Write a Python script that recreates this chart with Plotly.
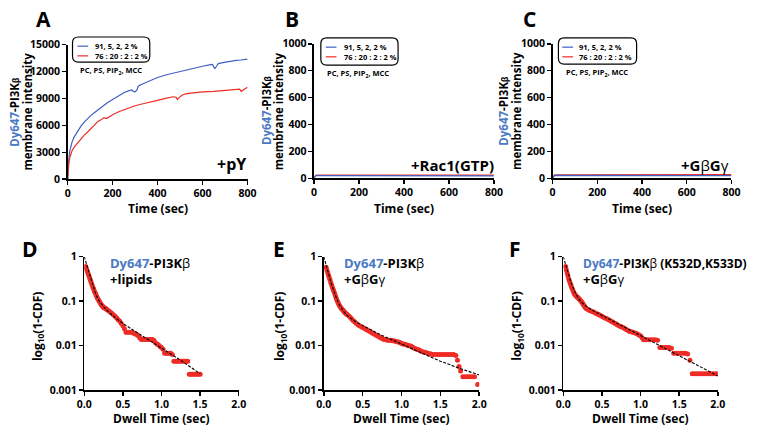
import plotly.graph_objects as go

W, H = 760, 432
FONT = "Open Sans"
BLUE = "#3f5fc4"
RED = "#ee2c25"
DYBLUE = "#4a78c4"

# ---------------- Panel A data (+pY) ----------------
a_blue_t = [0, 2, 5, 10, 15, 20, 30, 40, 50, 60, 75, 90, 105, 120, 135, 150, 175, 200, 225, 250,
            270, 285, 293, 300, 307, 315, 330, 360, 400, 440, 480, 520, 560, 600, 630, 645, 650,
            655, 662, 670, 690, 710, 730, 750, 770, 790, 800]
a_blue = [0, 1200, 2200, 3200, 3800, 4200, 4750, 5200, 5600, 5950, 6400, 6800, 7150, 7450, 7750,
          8050, 8500, 8900, 9300, 9650, 9850, 9950, 9800, 9750, 9900, 10400, 10600, 10950, 11350,
          11650, 11900, 12150, 12400, 12600, 12750, 12800, 12500, 12350, 12600, 12900, 13000,
          13100, 13200, 13250, 13300, 13350, 13400]
a_red_t = [0, 2, 5, 10, 15, 20, 30, 40, 50, 60, 75, 90, 105, 120, 135, 150, 160, 175, 190, 200,
           230, 260, 300, 340, 370, 400, 440, 470, 482, 488, 495, 510, 530, 560, 600, 650, 700,
           740, 765, 772, 778, 785, 800]
a_red = [0, 900, 1700, 2450, 2900, 3200, 3600, 3900, 4200, 4550, 4950, 5300, 5700, 6100, 6450,
         6650, 6850, 6800, 7050, 7200, 7550, 7850, 8200, 8450, 8600, 8800, 9050, 9200, 9150, 8900,
         9100, 9400, 9550, 9650, 9750, 9800, 9900, 9950, 10050, 9800, 9900, 10100, 10250]

# ---------------- Panel B / C data ----------------
bc_t = [0, 4, 8, 15, 50, 100, 150, 200, 250, 300, 350, 400, 450, 500, 550, 600, 650, 700, 750, 800]
b_blue = [0, 12, 19, 20, 20, 19, 20, 20, 19, 19, 20, 19, 18, 19, 18, 18, 19, 18, 18, 18]
b_red = [0, 14, 22, 24, 23, 24, 23, 24, 24, 25, 24, 23, 24, 23, 24, 25, 24, 23, 24, 23]
c_blue = [0, 13, 20, 21, 21, 20, 21, 21, 20, 20, 20, 20, 20, 20, 19, 20, 20, 19, 19, 19]
c_red = [0, 15, 24, 25, 25, 24, 25, 25, 26, 26, 27, 28, 28, 29, 28, 29, 28, 29, 28, 28]

legend_labels = ["91, 5, 2, 2 %", "76 : 20 : 2 : 2 %"]
legend_note = "PC, PS, PIP<sub>2</sub>, MCC"

# ---------------- Panel D data (log10(1-CDF)) ----------------
d_t = [0.02, 0.03, 0.04, 0.05, 0.06, 0.07, 0.08, 0.09, 0.10, 0.11, 0.12, 0.13, 0.14, 0.15, 0.16,
       0.17, 0.18, 0.19, 0.20, 0.21, 0.22, 0.23, 0.24, 0.25, 0.26, 0.27, 0.28, 0.29, 0.30, 0.32,
       0.34, 0.36, 0.38, 0.40, 0.42, 0.44, 0.46, 0.48, 0.50, 0.52, 0.54, 0.56, 0.58, 0.60, 0.62,
       0.64, 0.66, 0.68, 0.70, 0.72, 0.74, 0.76, 0.78, 0.80, 0.82, 0.84, 0.86, 0.88, 0.90, 0.92,
       0.94, 0.96, 0.98, 1.00, 1.02, 1.04, 1.06, 1.08, 1.10, 1.12, 1.14, 1.16, 1.18, 1.20, 1.22,
       1.24, 1.26, 1.28, 1.30, 1.32, 1.34, 1.36, 1.38, 1.40, 1.42, 1.44, 1.46, 1.48, 1.50]
d_log = [-0.22, -0.28, -0.33, -0.38, -0.43, -0.48, -0.53, -0.58, -0.63, -0.68, -0.72, -0.77,
         -0.81, -0.85, -0.89, -0.93, -0.96, -0.99, -1.02, -1.05, -1.08, -1.10, -1.12, -1.14,
         -1.15, -1.16, -1.17, -1.18, -1.20, -1.22, -1.25, -1.28, -1.31, -1.34, -1.38, -1.42,
         -1.45, -1.50, -1.55, -1.62, -1.70, -1.70, -1.70, -1.70, -1.70, -1.72, -1.74, -1.75,
         -1.78, -1.83, -1.86, -1.86, -1.86, -1.86, -1.86, -1.86, -1.86, -1.86, -1.88, -1.93,
         -1.96, -1.98, -2.02, -2.04, -2.08, -2.17, -2.17, -2.17, -2.17, -2.17, -2.20, -2.35,
         -2.35, -2.35, -2.35, -2.35, -2.35, -2.35, -2.35, -2.35, -2.35, -2.64, -2.64, -2.64,
         -2.64, -2.64, -2.64, -2.64, -2.64]
d_fit_t = [0, 0.05, 0.10, 0.15, 0.20, 0.25, 0.30, 0.40, 0.50, 0.75, 1.00, 1.25, 1.50]
d_fit = [0, -0.28, -0.60, -0.85, -1.02, -1.13, -1.22, -1.37, -1.50, -1.78, -2.05, -2.33, -2.63]

# ---------------- Panel E data ----------------
e_t = [0.03, 0.04, 0.05, 0.06, 0.07, 0.08, 0.09, 0.10, 0.11, 0.12, 0.13, 0.14, 0.15, 0.16, 0.17,
       0.18, 0.19, 0.20, 0.21, 0.22, 0.23, 0.24, 0.25, 0.26, 0.27, 0.28, 0.29, 0.30, 0.32, 0.34,
       0.36, 0.38, 0.40, 0.42, 0.44, 0.46, 0.48, 0.50, 0.52, 0.54, 0.56, 0.58, 0.60, 0.62, 0.64,
       0.66, 0.68, 0.70, 0.72, 0.74, 0.76, 0.78, 0.80, 0.82, 0.84, 0.86, 0.88, 0.90, 0.92, 0.94,
       0.96, 0.98, 1.00, 1.02, 1.04, 1.06, 1.08, 1.10, 1.12, 1.14, 1.16, 1.18, 1.20, 1.22, 1.24,
       1.26, 1.28, 1.30, 1.32, 1.34, 1.36, 1.38, 1.40, 1.43, 1.46, 1.49, 1.52, 1.55, 1.58, 1.61,
       1.64, 1.67, 1.70, 1.72, 1.74, 1.76, 1.79, 1.82, 1.85, 1.88, 1.91, 1.94, 1.98]
e_log = [-0.24, -0.30, -0.36, -0.41, -0.47, -0.52, -0.58, -0.63, -0.68, -0.73, -0.78, -0.83,
         -0.88, -0.93, -0.98, -1.02, -1.06, -1.09, -1.12, -1.15, -1.17, -1.19, -1.21, -1.23,
         -1.25, -1.27, -1.29, -1.30, -1.33, -1.36, -1.40, -1.44, -1.47, -1.50, -1.53, -1.55,
         -1.57, -1.59, -1.61, -1.63, -1.65, -1.67, -1.69, -1.71, -1.73, -1.75, -1.77, -1.79,
         -1.81, -1.83, -1.85, -1.86, -1.87, -1.88, -1.88, -1.88, -1.89, -1.89, -1.90, -1.91,
         -1.92, -1.93, -1.95, -1.96, -1.97, -1.98, -1.99, -2.00, -2.01, -2.03, -2.05, -2.07,
         -2.08, -2.09, -2.11, -2.13, -2.14, -2.15, -2.16, -2.17, -2.18, -2.19, -2.20, -2.20,
         -2.20, -2.20, -2.20, -2.20, -2.20, -2.20, -2.20, -2.20, -2.22, -2.33, -2.47, -2.57,
         -2.70, -2.70, -2.70, -2.70, -2.70, -2.70, -2.87]
e_fit_t = [0, 0.05, 0.10, 0.15, 0.20, 0.25, 0.30, 0.40, 0.50, 0.75, 1.00, 1.25, 1.50, 1.75, 2.00]
e_fit = [0, -0.33, -0.62, -0.88, -1.08, -1.22, -1.32, -1.45, -1.55, -1.77, -1.96, -2.16, -2.35,
         -2.51, -2.66]

# ---------------- Panel F data ----------------
f_t = [0.03, 0.04, 0.05, 0.06, 0.07, 0.08, 0.09, 0.10, 0.11, 0.12, 0.13, 0.14, 0.15, 0.16, 0.17,
       0.18, 0.19, 0.20, 0.21, 0.22, 0.23, 0.24, 0.25, 0.26, 0.27, 0.28, 0.29, 0.30, 0.32, 0.34,
       0.36, 0.38, 0.40, 0.42, 0.44, 0.46, 0.48, 0.50, 0.52, 0.54, 0.56, 0.58, 0.60, 0.62, 0.64,
       0.66, 0.68, 0.70, 0.72, 0.74, 0.76, 0.78, 0.80, 0.82, 0.84, 0.86, 0.88, 0.90, 0.92, 0.94,
       0.96, 0.98, 1.00, 1.02, 1.04, 1.07, 1.10, 1.13, 1.16, 1.19, 1.22, 1.25, 1.28, 1.31, 1.34,
       1.37, 1.40, 1.43, 1.46, 1.49, 1.52, 1.55, 1.58, 1.61, 1.64, 1.67, 1.70, 1.73, 1.76, 1.79,
       1.82, 1.85, 1.88, 1.91, 1.94, 1.97, 2.00]
f_log = [-0.22, -0.30, -0.37, -0.43, -0.50, -0.55, -0.60, -0.65, -0.70, -0.74, -0.78, -0.82,
         -0.85, -0.87, -0.89, -0.91, -0.92, -0.94, -0.96, -0.98, -1.00, -1.02, -1.05, -1.08,
         -1.10, -1.13, -1.15, -1.17, -1.19, -1.21, -1.22, -1.24, -1.25, -1.27, -1.29, -1.30,
         -1.32, -1.34, -1.36, -1.38, -1.39, -1.41, -1.43, -1.45, -1.47, -1.49, -1.51, -1.53,
         -1.55, -1.57, -1.58, -1.60, -1.62, -1.64, -1.66, -1.68, -1.69, -1.70, -1.71, -1.72,
         -1.74, -1.76, -1.78, -1.82, -1.87, -1.87, -1.87, -1.87, -1.87, -1.87, -1.88, -2.04,
         -2.04, -2.04, -2.04, -2.04, -2.06, -2.17, -2.17, -2.17, -2.17, -2.17, -2.17, -2.19,
         -2.33, -2.63, -2.63, -2.63, -2.63, -2.63, -2.63, -2.63, -2.63, -2.63, -2.63, -2.63,
         -2.63]
f_fit_t = [0, 0.05, 0.10, 0.15, 0.20, 0.25, 0.30, 0.40, 0.50, 0.75, 1.00, 1.25, 1.50, 1.75, 2.00]
f_fit = [0, -0.30, -0.58, -0.80, -0.95, -1.05, -1.12, -1.23, -1.32, -1.55, -1.78, -2.00, -2.22,
         -2.45, -2.68]

log_tickvals = [-3, -2, -1, 0]
log_ticktext = ["0.001", "0.01", "0.1", "1"]


def fx(px):
    return px / W


def fy(py):
    return 1 - py / H


# axis pixel boxes: (left, right, top, bottom)
boxes = {
    "A": (61, 245, 39, 178),
    "B": (313, 497, 38, 177),
    "C": (557, 740, 38, 177),
    "D": (78, 236, 258, 396),
    "E": (323, 482, 258, 396),
    "F": (568, 726, 258, 396),
}
order = ["A", "B", "C", "D", "E", "F"]

fig = go.Figure()


def add_line(i, x, y, color):
    fig.add_trace(go.Scatter(x=x, y=y, mode="lines", line=dict(color=color, width=1.2),
                             xaxis=f"x{i}", yaxis=f"y{i}", showlegend=False, hoverinfo="skip"))


def add_cdf(i, t, v, ft, fv):
    fig.add_trace(go.Scatter(x=t, y=v, mode="markers",
                             marker=dict(color=RED, size=5, line=dict(width=0)),
                             xaxis=f"x{i}", yaxis=f"y{i}", showlegend=False, hoverinfo="skip"))
    fig.add_trace(go.Scatter(x=ft, y=fv, mode="lines",
                             line=dict(color="black", width=1.1, dash="3px,1.5px"),
                             xaxis=f"x{i}", yaxis=f"y{i}", showlegend=False, hoverinfo="skip"))


add_line(1, a_blue_t, a_blue, BLUE)
add_line(1, a_red_t, a_red, RED)
add_line(2, bc_t, b_red, RED)
add_line(2, bc_t, b_blue, BLUE)
add_line(3, bc_t, c_red, RED)
add_line(3, bc_t, c_blue, BLUE)
add_cdf(4, d_t, d_log, d_fit_t, d_fit)
add_cdf(5, e_t, e_log, e_fit_t, e_fit)
add_cdf(6, f_t, f_log, f_fit_t, f_fit)

axis_common = dict(showline=True, linecolor="black", linewidth=1.5, ticks="outside",
                   ticklen=4, tickwidth=1.5, tickcolor="black", showgrid=False,
                   zeroline=False, tickfont=dict(size=10.5, family=FONT, color="black", weight="bold"))

layout = {}
for i, k in enumerate(order, start=1):
    l, r, t, b = boxes[k]
    xa = dict(axis_common, domain=[fx(l), fx(r)], anchor=f"y{i}")
    ya = dict(axis_common, domain=[fy(b), fy(t)], anchor=f"x{i}")
    if i == 1:
        xa.update(range=[0, 800], tickvals=[0, 200, 400, 600, 800])
        ya.update(range=[0, 15000], tickvals=[0, 3000, 6000, 9000, 12000, 15000], tickformat="d")
    elif i in (2, 3):
        xa.update(range=[0, 800], tickvals=[0, 200, 400, 600, 800])
        ya.update(range=[0, 1000], tickvals=[0, 200, 400, 600, 800, 1000], tickformat="d")
    else:
        xa.update(range=[0, 2.0], tickvals=[0, 0.5, 1.0, 1.5, 2.0], tickformat=".1f")
        ya.update(range=[-3, 0], tickvals=log_tickvals, ticktext=log_ticktext)
    layout[f"xaxis{i}"] = xa
    layout[f"yaxis{i}"] = ya

fig.update_layout(**layout)

ann = []
shapes = []


def text(x, y, s, size, xanchor="center", yanchor="middle", angle=0, weight="bold", color="black"):
    ann.append(dict(x=fx(x), y=fy(y), xref="paper", yref="paper", text=s, showarrow=False,
                    xanchor=xanchor, yanchor=yanchor, textangle=angle,
                    font=dict(family=FONT, size=size, color=color, weight=weight)))


# panel letters
for k, (x, y) in {"A": (36, 12), "B": (291, 12), "C": (533, 12),
                  "D": (22, 250), "E": (277, 250), "F": (519, 250)}.items():
    text(x, y, k, 21)

dy = f"<span style='color:{DYBLUE}'>Dy647</span>"
beta_s = "<span style='font-size:8px'>β</span>"
# y titles top row
for k, off1, off2 in (("A", -54, -41), ("B", -49, -36.5), ("C", -51, -37.5)):
    l, r, t, b = boxes[k]
    cy = (t + b) / 2
    text(l + off1, cy, f"{dy}-PI3K{beta_s}", 11.5, angle=-90)
    text(l + off2, cy, "membrane intensity", 11.5, angle=-90)
    text((l + r) / 2, 208, "Time (sec)", 12)

# condition labels
text(246, 162, "+pY", 16, xanchor="right")
text(499, 163, "+Rac1(GTP)", 15, xanchor="right")
gb = "+G<span style='font-weight:normal'>β</span>G<span style='font-weight:normal'>γ</span>"
text(740, 163, gb, 15, xanchor="right")


# legends (rounded boxes)
def rrect(x0, y0, x1, y1, r):
    def P(x, y):
        return f"{fx(x):.5f},{fy(y):.5f}"
    return (f"M {P(x0 + r, y0)} L {P(x1 - r, y0)} Q {P(x1, y0)} {P(x1, y0 + r)} "
            f"L {P(x1, y1 - r)} Q {P(x1, y1)} {P(x1 - r, y1)} L {P(x0 + r, y1)} "
            f"Q {P(x0, y1)} {P(x0, y1 - r)} L {P(x0, y0 + r)} Q {P(x0, y0)} {P(x0 + r, y0)} Z")


for (bx0, by0, bx1, by1, lx0, lx1, tx, nx) in ((66, 31, 145, 57, 71, 82, 87, 105),
                                                (320, 32, 399, 60, 325, 336, 342, 358),
                                                (563, 32, 643, 59, 567, 578, 582, 602)):
    shapes.append(dict(type="path", path=rrect(bx0, by0, bx1, by1, 6), xref="paper", yref="paper",
                       line=dict(color="black", width=1.2), fillcolor="white"))
    for j, (col, yy) in enumerate(((BLUE, by0 + 9.5), (RED, by0 + 19.5))):
        shapes.append(dict(type="line", xref="paper", yref="paper", x0=fx(lx0), x1=fx(lx1),
                           y0=fy(yy), y1=fy(yy), line=dict(color=col, width=1.2)))
        text(tx, yy, legend_labels[j], 7.5, xanchor="left")
    text(nx, by1 + 9.5, legend_note, 7.5)

# bottom row titles
for k, off in (("D", -47.5), ("E", -44), ("F", -47)):
    l, r, t, b = boxes[k]
    text(l + off, 330, "log<sub>10</sub>(1-CDF)", 12, angle=-90)
    text((l + r) / 2, 425, "Dwell Time (sec)", 12)

beta_n = "<span style='font-weight:normal'>β</span>"
text(102, 265, f"{dy}-PI3K{beta_n}", 13, xanchor="left")
text(102, 281, "+lipids", 13, xanchor="left")
text(342, 265, f"{dy}-PI3K{beta_n}", 13, xanchor="left")
text(342, 281, gb, 13, xanchor="left")
text(586, 265, f"{dy}-PI3K{beta_n} (K532D,K533D)", 12, xanchor="left")
text(586, 281, gb, 13, xanchor="left")

fig.update_layout(width=W, height=H, margin=dict(l=0, r=0, t=0, b=0),
                  paper_bgcolor="white", plot_bgcolor="white",
                  font=dict(family=FONT, color="black", weight="bold"),
                  annotations=ann, shapes=shapes, showlegend=False)

fig.write_html("out.html", config={"displayModeBar": False, "staticPlot": True},
               post_script="document.body.style.margin='0px';")
